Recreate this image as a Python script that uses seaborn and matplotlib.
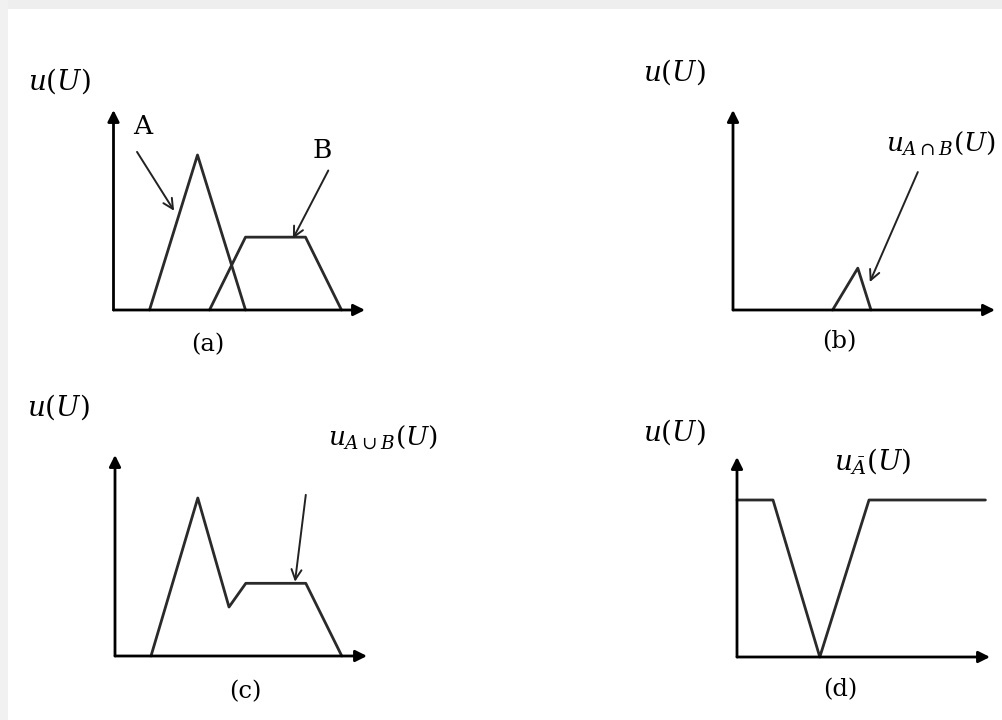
import matplotlib
matplotlib.use("Agg")
import matplotlib.pyplot as plt
from matplotlib.patches import Rectangle
import seaborn as sns

sns.set_theme(style="white")
plt.rcParams["font.family"] = ["DejaVu Serif", "Liberation Serif"]
plt.rcParams["mathtext.fontset"] = "dejavuserif"

# Fuzzy sets on the universe U (x in units of U, y = membership degree)
a_x = [3, 7, 11]
a_y = [0, 1, 0]
b_x = [8, 11, 16, 19]
b_y = [0, 0.47, 0.47, 0]

# intersection A ∩ B
inter_x = [8.3, 10.4, 11.5]
inter_y = [0, 0.27, 0]

# union A ∪ B
union_x = [3, 6.9, 9.5, 10.9, 15.9, 18.9]
union_y = [0, 1.0, 0.31, 0.46, 0.46, 0]

# complement of A
comp_x = [0, 3, 6.9, 11, 20.7]
comp_y = [1, 1, 0, 1, 1]

panel_tags = ["(a)", "(b)", "(c)", "(d)"]
y_label = r"$u(U)$"
set_names = ["A", "B"]
inter_name = r"$u_{A\cap B}(U)$"
union_name = r"$u_{A\cup B}(U)$"
comp_name = r"$u_{\bar{A}}(U)$"

W, H = 1003, 720
fig = plt.figure(figsize=(W / 100, H / 100), dpi=100)
fig.patch.set_facecolor("white")

# light page frame along the top and left edges
fig.patches.append(Rectangle((0, 1 - 9 / H), 1, 9 / H, transform=fig.transFigure,
                             facecolor="#eeeeee", edgecolor="none", zorder=0))
fig.patches.append(Rectangle((0, 0), 8 / W, 1, transform=fig.transFigure,
                             facecolor="#f1f1f1", edgecolor="none", zorder=0))

UNIT_X = 12.0  # pixels per unit of U


def make_axes(ox, oy, xtip, ytip, unit_y):
    """Axes whose origin sits at pixel (ox, oy) and reaches the arrow tips."""
    ax = fig.add_axes([ox / W, 1 - oy / H, (xtip - ox) / W, (oy - ytip) / H])
    xmax = (xtip - ox) / UNIT_X
    ymax = (oy - ytip) / unit_y
    ax.set_xlim(0, xmax)
    ax.set_ylim(0, ymax)
    ax.set_axis_off()
    head = dict(arrowstyle="-|>", lw=2.0, color="black", mutation_scale=17,
                shrinkA=0, shrinkB=0)
    ax.annotate("", xy=(xmax, 0), xytext=(0, 0), arrowprops=head,
                annotation_clip=False)
    ax.annotate("", xy=(0, ymax), xytext=(0, 0), arrowprops=head,
                annotation_clip=False)
    return ax


def curve(ax, x, y):
    sns.lineplot(x=x, y=y, ax=ax, color="#2a2a2a", lw=2.0, sort=False,
                 estimator=None, clip_on=False)


def pointer(ax, start, tip):
    ax.annotate("", xy=tip, xytext=start,
                arrowprops=dict(arrowstyle="->", lw=1.4, color="#222222",
                                mutation_scale=18, shrinkA=0, shrinkB=0),
                annotation_clip=False)


def label(px, py, s, size, **kw):
    fig.text(px / W, 1 - py / H, s, fontsize=size, ha="center", va="center",
             color="black", **kw)


# (a) sets A and B
ax_a = make_axes(113.5, 310, 365, 110, 155)
curve(ax_a, a_x, a_y)
curve(ax_a, b_x, b_y)
pointer(ax_a, (1.96, 1.02), (5.05, 0.64))
pointer(ax_a, (17.9, 0.90), (14.95, 0.46))
label(59, 81, y_label, 20)
label(143, 126, set_names[0], 19)
label(322, 151, set_names[1], 19)
label(208, 345, panel_tags[0], 17.5)

# (b) intersection
ax_b = make_axes(733, 310, 995, 110, 155)
curve(ax_b, inter_x, inter_y)
pointer(ax_b, (15.4, 0.89), (11.4, 0.18))
label(674, 72, y_label, 20)
label(941, 143, inter_name, 19)
label(839, 342, panel_tags[1], 17.5)

# (c) union
ax_c = make_axes(115, 656, 367, 455, 158)
curve(ax_c, union_x, union_y)
pointer(ax_c, (15.9, 1.02), (15.0, 0.47))
label(58, 407, y_label, 20)
label(383, 437, union_name, 19)
label(245, 692, panel_tags[2], 17.5)

# (d) complement of A
ax_d = make_axes(737, 657, 990, 457, 157)
curve(ax_d, comp_x, comp_y)
label(674, 432, y_label, 20)
label(873, 461, comp_name, 20)
label(840, 690, panel_tags[3], 17.5)

fig.savefig("out.png", dpi=100, facecolor="white")
